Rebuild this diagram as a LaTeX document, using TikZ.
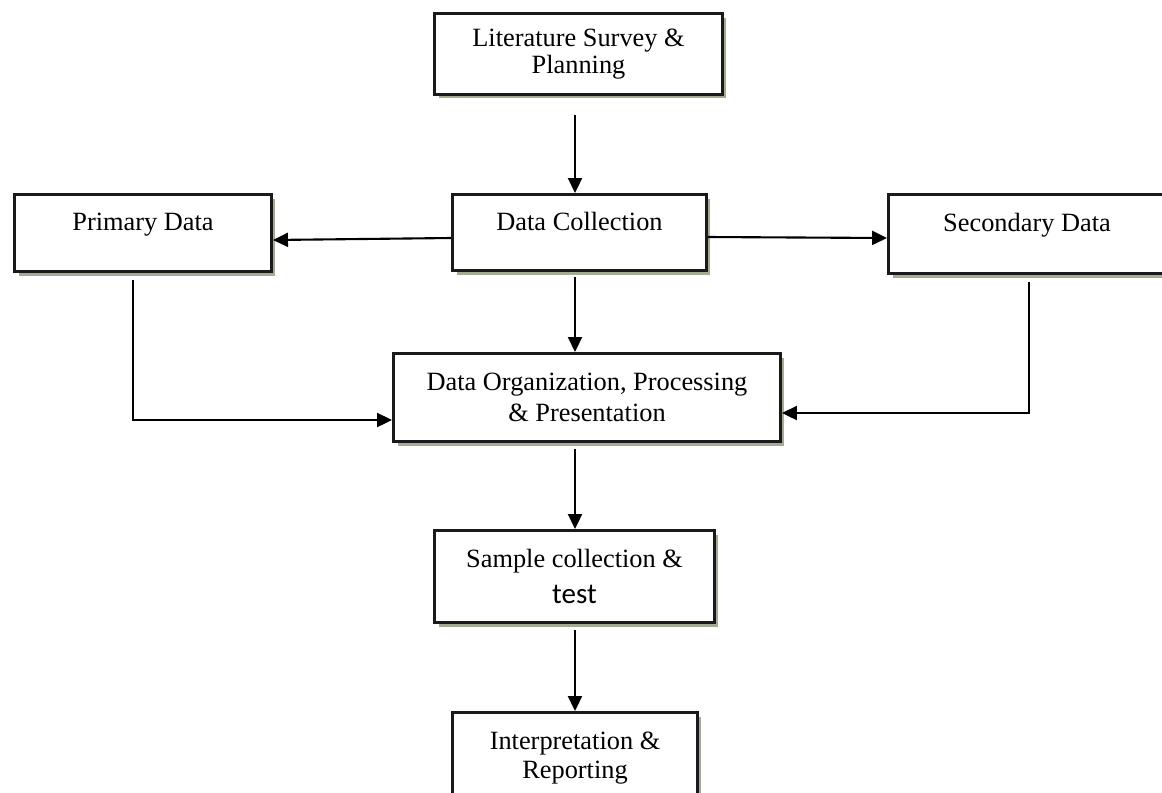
\documentclass[tikz,border=0pt]{standalone}
\usepackage{fontspec}
\setmainfont{Liberation Serif}
\newfontfamily\calibri{Carlito}
\usepackage{tikz}
\usepackage{xcolor}
\usetikzlibrary{arrows.meta,calc,shadows}
\definecolor{LineNC}{HTML}{1A1A1A}
\definecolor{ShadowNC}{HTML}{A4AB93}
\newcommand\nodelsp{Literature Survey \&\\[-1.5pt]Planning}
\newcommand\nodedc{Data Collection}
\newcommand\nodepd{Primary Data}
\newcommand\nodesd{Secondary Data}
\newcommand\nodedop{Data Organization, Processing\\[1pt]\& Presentation}
\newcommand\nodesc{Sample collection \&\\[3pt]{\calibri\fontsize{16.5}{17}\selectfont test}}
\newcommand\nodeir{Interpretation \&\\Reporting}
\tikzstyle{mynodestyle} = [rectangle, draw=LineNC, fill=white, line width=1.7pt, align=center, font=\fontsize{15}{17}\selectfont, drop shadow={shadow xshift=0.08cm, shadow yshift=-0.08cm, fill=ShadowNC, opacity=1}]
\tikzstyle{mb} = [mynodestyle]
% one line of text, set near the top of the box
\tikzstyle{tb} = [mynodestyle, text depth=0.46cm]
\tikzset{>={Triangle[length=0.3cm,width=0.28cm]}, every picture/.style={line width=1.2pt}}

\begin{document}
\begin{tikzpicture}[x=0.02cm, y=-0.02cm]
\useasboundingbox (0,0) rectangle (1162,792);
\coordinate (spine) at (575,0);
\node[mb, minimum width=5.76cm, minimum height=1.62cm] (lsp) at (578.5,54) {\nodelsp};
\node[tb, minimum width=5.08cm, minimum height=1.52cm] (dc) at (579.5,232.5) {\nodedc};
\node[tb, minimum width=5.14cm, minimum height=1.54cm] (pd) at (143,233) {\nodepd};
\node[tb, minimum width=5.54cm, minimum height=1.58cm] (sd) at (1027,234) {\nodesd};
\node[mb, minimum width=7.74cm, minimum height=1.76cm] (dop) at (587,397.5) {\nodedop};
\node[mb, minimum width=5.60cm, minimum height=1.84cm] (sc) at (574.5,576.5) {\nodesc};
\node[mb, minimum width=4.90cm, minimum height=1.82cm] (ir) at (575,758) {\nodeir};
\draw [->, shorten <=0.38cm] (spine |- lsp.south) -- (spine |- dc.north);
\draw [->] ($(dc.west)+(0,5.5)$) -- ($(pd.east)+(0,7)$);
\draw [->] ($(dc.east)+(0,4.5)$) -- ($(sd.west)+(0,4)$);
\draw [->, shorten <=0.1cm] (spine |- dc.south) -- (spine |- dop.north);
\draw [->, shorten <=0.14cm] ($(pd.south)+(-10,0)$) |- ($(dop.west)+(0,22.5)$);
\draw [->, shorten <=0.14cm] ($(sd.south)+(2,0)$) |- ($(dop.east)+(0,15.5)$);
\draw [->, shorten <=0.12cm] (spine |- dop.south) -- (spine |- sc.north);
\draw [->, shorten <=0.12cm] (spine |- sc.south) -- (spine |- ir.north);
\end{tikzpicture}
\end{document}
